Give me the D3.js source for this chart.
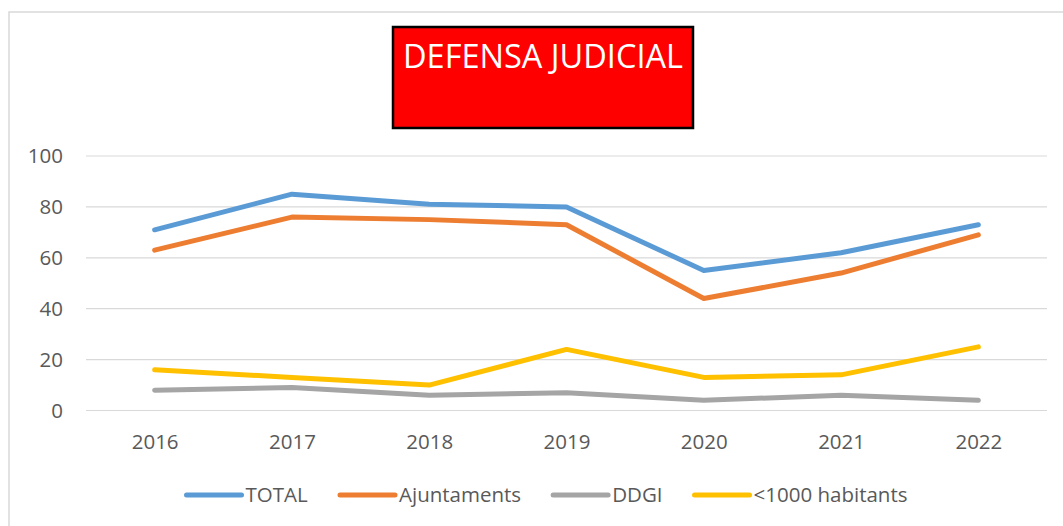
<!DOCTYPE html>
<html>
<head>
<meta charset="utf-8">
<script src="https://cdn.jsdelivr.net/npm/d3@7"></script>
<style>
  html, body { margin: 0; padding: 0; background: #fff; }
  svg { display: block; }
  text { font-family: "Open Sans", sans-serif; }
</style>
</head>
<body>
<svg id="chart" width="1063" height="526"></svg>
<script>
const years = ["2016", "2017", "2018", "2019", "2020", "2021", "2022"];
const total = [71, 85, 81, 80, 55, 62, 73];
const ajuntaments = [63, 76, 75, 73, 44, 54, 69];
const ddgi = [8, 9, 6, 7, 4, 6, 4];
const menys1000 = [16, 13, 10, 24, 13, 14, 25];
const yTicks = [0, 20, 40, 60, 80, 100];
const seriesNames = ["TOTAL", "Ajuntaments", "DDGI", "<1000 habitants"];
const seriesColors = ["#5B9BD5", "#ED7D31", "#A5A5A5", "#FFC000"];
const titleText = "DEFENSA JUDICIAL";

const series = [total, ajuntaments, ddgi, menys1000].map((vals, i) => ({
  name: seriesNames[i], color: seriesColors[i], values: vals
}));

const svg = d3.select("#chart");
const fontSize = "20.5px";

// chart frame
svg.append("rect")
  .attr("x", 9).attr("y", 12).attr("width", 1070).attr("height", 530)
  .attr("fill", "none").attr("stroke", "#d9d9d9").attr("stroke-width", 1.5);

const x = d3.scalePoint().domain(years).range([86, 1047]).padding(0.5);
const y = d3.scaleLinear().domain([0, 100]).range([410.5, 156]);

// gridlines
svg.append("g").selectAll("line").data(yTicks).join("line")
  .attr("x1", 86).attr("x2", 1047)
  .attr("y1", d => y(d)).attr("y2", d => y(d))
  .attr("stroke", "#d9d9d9").attr("stroke-width", 1.2);

// y axis labels
const yAxis = svg.append("g").attr("transform", "translate(63,0)")
  .call(d3.axisLeft(y).tickValues(yTicks).tickSize(0).tickPadding(0));
yAxis.select(".domain").remove();
yAxis.selectAll("text")
  .attr("font-family", "Open Sans, sans-serif")
  .attr("font-size", fontSize).attr("fill", "#595959");

// x axis labels
const xAxis = svg.append("g").attr("transform", "translate(0,434)")
  .call(d3.axisBottom(x).tickSize(0).tickPadding(0));
xAxis.select(".domain").remove();
xAxis.selectAll("text")
  .attr("font-family", "Open Sans, sans-serif")
  .attr("font-size", fontSize).attr("fill", "#595959");

// lines
const line = d3.line()
  .x((d, i) => x(years[i]))
  .y(d => y(d));

svg.append("g").selectAll("path").data(series).join("path")
  .attr("d", d => line(d.values))
  .attr("fill", "none")
  .attr("stroke", d => d.color)
  .attr("stroke-width", 5)
  .attr("stroke-linecap", "round")
  .attr("stroke-linejoin", "round");

// title box
svg.append("rect")
  .attr("x", 393).attr("y", 27).attr("width", 300).attr("height", 101)
  .attr("fill", "#FF0000").attr("stroke", "#000").attr("stroke-width", 2.5);
svg.append("text")
  .attr("x", 543).attr("y", 68)
  .attr("text-anchor", "middle")
  .attr("font-size", "33px").attr("fill", "#fff")
  .attr("textLength", 280).attr("lengthAdjust", "spacingAndGlyphs")
  .text(titleText);

// legend
const legend = svg.append("g");
const lineLen = 55, textGap = 4, itemGap = 32, legendY = 495;
const items = legend.selectAll("g").data(series).join("g");
items.append("line")
  .attr("x1", 0).attr("x2", lineLen).attr("y1", 0).attr("y2", 0)
  .attr("stroke", d => d.color).attr("stroke-width", 5)
  .attr("stroke-linecap", "round");
items.append("text")
  .attr("x", lineLen + textGap).attr("y", 0).attr("dy", "0.35em")
  .attr("font-size", fontSize).attr("fill", "#595959")
  .text(d => d.name);
let widths = [];
items.each(function() { widths.push(this.getBBox().width); });
const totalW = d3.sum(widths) + itemGap * (widths.length - 1);
let cx = 547 - totalW / 2;
items.attr("transform", (d, i) => {
  const t = `translate(${cx},${legendY})`;
  cx += widths[i] + itemGap;
  return t;
});
</script>
</body>
</html>
